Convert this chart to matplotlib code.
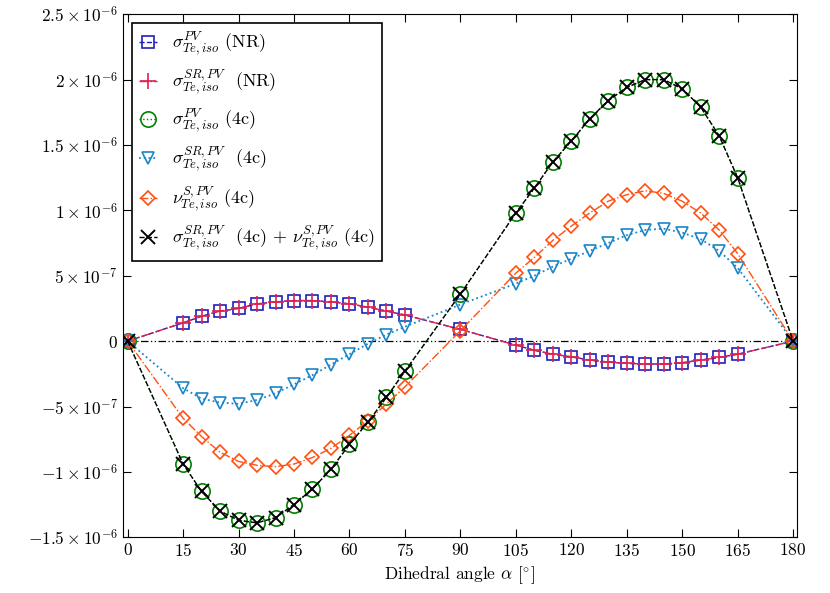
import numpy as np
import matplotlib
matplotlib.use("Agg")
import matplotlib.pyplot as plt

plt.rcParams["mathtext.fontset"] = "cm"
plt.rcParams["font.family"] = "serif"
plt.rcParams["font.serif"] = ["cmr10"]
plt.rcParams["axes.formatter.use_mathtext"] = True

alpha = [0, 15, 20, 25, 30, 35, 40, 45, 50, 55, 60, 65, 70, 75, 90,
         105, 110, 115, 120, 125, 130, 135, 140, 145, 150, 155, 160, 165, 180]

# values in units of 1e-7
sig_pv_nr = [0, 1.4, 1.9, 2.3, 2.5, 2.85, 3.0, 3.1, 3.1, 3.0, 2.85, 2.6, 2.3, 2.0, 0.9,
             -0.3, -0.7, -1.0, -1.2, -1.45, -1.6, -1.7, -1.75, -1.75, -1.65, -1.45, -1.25, -1.0, 0]
sig_sr_nr = sig_pv_nr
sig_pv_4c = [0, -9.4, -11.5, -13.0, -13.7, -13.9, -13.5, -12.5, -11.3, -9.8, -7.9, -6.2, -4.3, -2.3, 3.6,
             9.8, 11.7, 13.7, 15.3, 17.0, 18.4, 19.4, 20.0, 20.0, 19.3, 17.9, 15.7, 12.5, 0]
sig_sr_4c = [0, -3.6, -4.4, -4.7, -4.8, -4.5, -4.0, -3.3, -2.6, -1.8, -1.0, -0.2, 0.5, 1.1, 2.8,
             4.4, 5.0, 5.7, 6.3, 6.9, 7.5, 8.1, 8.5, 8.6, 8.3, 7.8, 6.9, 5.6, 0]
nu_s_4c = [0, -5.9, -7.3, -8.5, -9.2, -9.5, -9.6, -9.4, -8.9, -8.2, -7.2, -6.1, -4.8, -3.5, 0.8,
           5.2, 6.4, 7.7, 8.8, 9.8, 10.7, 11.2, 11.5, 11.3, 10.7, 9.8, 8.5, 6.7, 0]
sum_4c = sig_pv_4c

a = np.array(alpha)
s = 1e-7
fig, ax = plt.subplots(figsize=(8.3, 5.93), dpi=100)
ax.axhline(0, color="k", ls=(0, (6, 2, 1, 2, 1, 2)), lw=0.9)
ms = 9
ax.plot(a, np.array(sig_pv_nr) * s, ls="--", color="#1f1fbf", marker="s", mfc="none", ms=ms, mew=1.2, lw=1,
        label=r"$\sigma^{PV}_{Te,iso}$ (NR)")
ax.plot(a, np.array(sig_sr_nr) * s, ls="-.", color="#e0204f", marker="+", ms=12, mew=1.2, lw=1,
        label=r"$\sigma^{SR,PV}_{Te,iso}$  (NR)")
ax.plot(a, np.array(sig_pv_4c) * s, ls=":", color="green", marker="o", mfc="none", ms=11, mew=1.2, lw=1,
        label=r"$\sigma^{PV}_{Te,iso}$ (4c)")
ax.plot(a, np.array(sig_sr_4c) * s, ls=":", color="#1a85c8", marker="v", mfc="none", ms=ms, mew=1.2, lw=1.3,
        label=r"$\sigma^{SR,PV}_{Te,iso}$  (4c)")
ax.plot(a, np.array(nu_s_4c) * s, ls="-.", color="#ff5010", marker="D", mfc="none", ms=7, mew=1.2, lw=1,
        label=r"$\nu^{S,PV}_{Te,iso}$ (4c)")
ax.plot(a, np.array(sum_4c) * s, ls="--", color="k", marker="x", ms=10, mew=1.4, lw=1,
        label=r"$\sigma^{SR,PV}_{Te,iso}$  (4c) + $\nu^{S,PV}_{Te,iso}$ (4c)")

ax.set_xlim(-1.3, 181)
ax.set_ylim(-1.5e-6, 2.5e-6)
ax.set_xticks(range(0, 181, 15))
yt = [-1.5e-6, -1e-6, -5e-7, 0, 5e-7, 1e-6, 1.5e-6, 2e-6, 2.5e-6]
ylab = [r"$-1.5\times10^{-6}$", r"$-1\times10^{-6}$", r"$-5\times10^{-7}$", r"$0$",
        r"$5\times10^{-7}$", r"$1\times10^{-6}$", r"$1.5\times10^{-6}$", r"$2\times10^{-6}$", r"$2.5\times10^{-6}$"]
ax.set_yticks(yt)
ax.set_yticklabels(ylab)
ax.tick_params(direction="in", top=True, right=True, labelsize=12.5, length=6)
ax.set_xlabel(r"Dihedral angle $\alpha$ [$^{\circ}$]", fontsize=12.5)
leg = ax.legend(loc="upper left", fontsize=13, handlelength=1.0, labelspacing=0.55,
                fancybox=False, edgecolor="k", framealpha=1, borderaxespad=0.5)
leg.get_frame().set_linewidth(1.2)
fig.subplots_adjust(left=0.148, right=0.96, bottom=0.094, top=0.976)
fig.savefig("out.png", dpi=100)
